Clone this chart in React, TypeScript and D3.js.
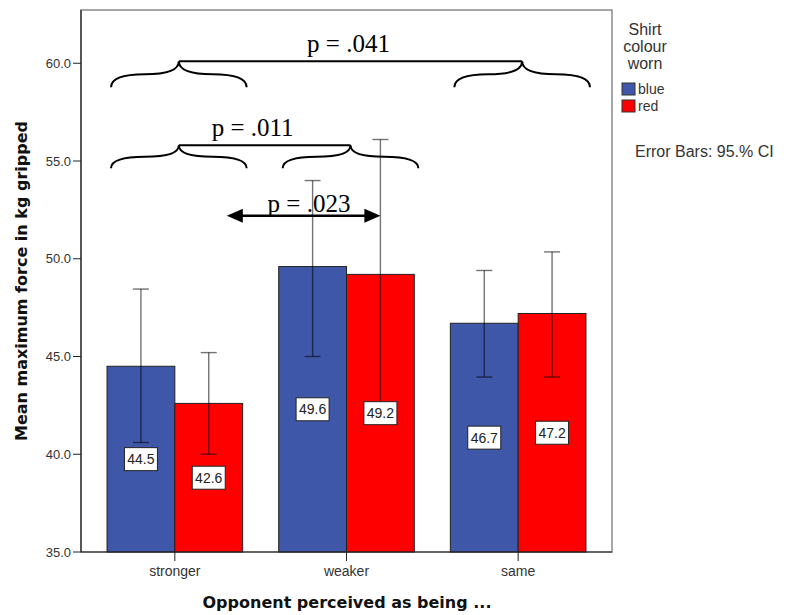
import React from 'react';
import * as d3 from 'd3';

const categories = ['stronger', 'weaker', 'same'];
const series = ['blue', 'red'];
const seriesColors = ['#3f57a8', '#ff0000'];
const blueMeans = [44.5, 49.6, 46.7];
const redMeans = [42.6, 49.2, 47.2];
const blueLow = [40.6, 45.0, 43.95];
const blueHigh = [48.45, 54.0, 49.4];
const redLow = [40.0, 42.3, 43.95];
const redHigh = [45.2, 56.1, 50.35];
const yTicks = [35, 40, 45, 50, 55, 60];

// comparisons drawn above the bars: [left group, right group, level, label]
const braceRows: [string, string, number, string][] = [
    ['stronger', 'same', 60.1, 'p = .041'],
    ['stronger', 'weaker', 55.8, 'p = .011'],
];
const braceLabelShift = [-2, -12];
const arrowLevel = 52.2;
const arrowLabel = 'p = .023';

const W = 786, H = 615;
const left = 81, right = 612, top = 10, bottom = 552;

function bracePath(x0: number, x1: number, y: number, h: number) {
    const xm = (x0 + x1) / 2;
    const ym = y + h * 0.5;
    return `M${x0},${y + h} Q${x0},${ym} ${(x0 + xm) / 2},${ym} Q${xm},${ym} ${xm},${y}` +
        ` Q${xm},${ym} ${(xm + x1) / 2},${ym} Q${x1},${ym} ${x1},${y + h}`;
}

export default function App() {
    const y = d3.scaleLinear().domain([35, 35 + (bottom - top) / 19.55]).range([bottom, top]);
    const x = d3.scaleBand().domain(categories).range([89, 604]).paddingInner(0).paddingOuter(0);
    const bw = x.bandwidth();
    const barW = bw * 0.395;
    const xs = d3.scaleBand().domain(series).range([0, barW * 2]);

    const rows = categories.map((c, i) => [
        { c, s: 'blue', v: blueMeans[i], lo: blueLow[i], hi: blueHigh[i], col: seriesColors[0] },
        { c, s: 'red', v: redMeans[i], lo: redLow[i], hi: redHigh[i], col: seriesColors[1] },
    ]).flat();

    const barX = (c: string, s: string) => (x(c) as number) + bw / 2 - barW + (xs(s) as number);
    const groupL = (c: string) => (x(c) as number) + bw / 2 - barW + 4;
    const groupR = (c: string) => (x(c) as number) + bw / 2 + barW + 4;
    const font = 'Arial, "Liberation Sans", sans-serif';
    const titleFont = '"DejaVu Sans", Verdana, sans-serif';
    const serif = '"Times New Roman", "Liberation Serif", serif';

    const arrowX0 = (x('stronger') as number) + bw / 2 + 52;
    const arrowX1 = barX('weaker', 'red') + barW / 2;
    const ay = y(arrowLevel);

    return (
        <svg width={W} height={H} style={{ position: 'absolute', left: 0, top: 0, background: '#fff' }}>
            <rect x={left} y={top} width={right - left} height={bottom - top} fill="#fff" stroke="#8a8a8a" strokeWidth={1.5} />
            {rows.map((r, i) => (
                <rect key={'b' + i} x={barX(r.c, r.s)} y={y(r.v)} width={barW} height={bottom - y(r.v)}
                    fill={r.col} stroke="#222" strokeWidth={1} />
            ))}
            {rows.map((r, i) => {
                const cx = barX(r.c, r.s) + barW / 2;
                return (
                    <g key={'e' + i} stroke="#000" strokeOpacity={0.55} strokeWidth={1.4}>
                        <line x1={cx} x2={cx} y1={y(r.hi)} y2={y(r.lo)} />
                        <line x1={cx - 8} x2={cx + 8} y1={y(r.hi)} y2={y(r.hi)} />
                        <line x1={cx - 8} x2={cx + 8} y1={y(r.lo)} y2={y(r.lo)} />
                    </g>
                );
            })}
            {rows.map((r, i) => {
                const cx = barX(r.c, r.s) + barW / 2;
                const cy = y((35 + r.v) / 2);
                return (
                    <g key={'l' + i}>
                        <rect x={cx - 16.5} y={cy - 11.5} width={33} height={23} fill="#fff" stroke="#222" strokeWidth={1} />
                        <text x={cx} y={cy + 5} textAnchor="middle" fontFamily={font} fontSize={14} fill="#222">{r.v.toFixed(1)}</text>
                    </g>
                );
            })}
            {/* y axis */}
            <line x1={left} x2={left} y1={top} y2={bottom} stroke="#222" strokeWidth={1.2} />
            {yTicks.map(t => (
                <g key={t}>
                    <line x1={left - 8} x2={left} y1={y(t)} y2={y(t)} stroke="#222" />
                    <text x={left - 10} y={y(t) + 4.5} textAnchor="end" fontFamily={font} fontSize={13} fill="#333">{t.toFixed(1)}</text>
                </g>
            ))}
            {/* x axis */}
            <line x1={left} x2={right} y1={bottom} y2={bottom} stroke="#222" strokeWidth={1.2} />
            {categories.map(c => {
                const cx = (x(c) as number) + bw / 2;
                return (
                    <g key={c}>
                        <line x1={cx} x2={cx} y1={bottom} y2={bottom + 9} stroke="#222" />
                        <text x={cx} y={bottom + 24} textAnchor="middle" fontFamily={font} fontSize={14} fill="#333">{c}</text>
                    </g>
                );
            })}
            <text x={347} y={608} textAnchor="middle" fontFamily={titleFont} fontWeight="bold" fontSize={16} fill="#111">Opponent perceived as being ...</text>
            <text transform={`translate(27,${(top + bottom) / 2}) rotate(-90)`} textAnchor="middle" fontFamily={titleFont} fontWeight="bold" fontSize={16} fill="#111">Mean maximum force in kg gripped</text>

            {/* comparisons */}
            {braceRows.map(([a, b, lvl, lab], i) => {
                const ty = y(lvl);
                const h = i === 0 ? 26 : 23;
                const xa = (groupL(a) + groupR(a)) / 2;
                const xb = (groupL(b) + groupR(b)) / 2;
                return (
                    <g key={'br' + i} fill="none" stroke="#000" strokeWidth={2}>
                        <path d={bracePath(groupL(a), groupR(a), ty, h)} />
                        <path d={bracePath(groupL(b), groupR(b), ty, h)} />
                        <line x1={xa} x2={xb} y1={ty} y2={ty} />
                        <text x={(xa + xb) / 2 + braceLabelShift[i]} y={ty - 9} textAnchor="middle" fontFamily={serif} fontSize={25} fill="#000" stroke="none">{lab}</text>
                    </g>
                );
            })}
            <g>
                <line x1={arrowX0 + 10} x2={arrowX1 - 10} y1={ay} y2={ay} stroke="#000" strokeWidth={2.5} />
                <path d={`M${arrowX0},${ay} L${arrowX0 + 16},${ay - 7} L${arrowX0 + 16},${ay + 7} Z`} fill="#000" />
                <path d={`M${arrowX1},${ay} L${arrowX1 - 16},${ay - 7} L${arrowX1 - 16},${ay + 7} Z`} fill="#000" />
                <text x={309} y={ay - 4} textAnchor="middle" fontFamily={serif} fontSize={25} fill="#000">{arrowLabel}</text>
            </g>

            {/* legend */}
            <g fontFamily={font} fill="#333">
                <text x={645} y={35} textAnchor="middle" fontSize={16}>Shirt</text>
                <text x={645} y={52} textAnchor="middle" fontSize={16}>colour</text>
                <text x={645} y={69} textAnchor="middle" fontSize={16}>worn</text>
                {series.map((s, i) => (
                    <g key={s}>
                        <rect x={622} y={83 + i * 17} width={13} height={12} fill={seriesColors[i]} stroke="#333" />
                        <text x={638} y={94 + i * 17} fontSize={14}>{s}</text>
                    </g>
                ))}
                <text x={635} y={157} fontSize={16}>Error Bars: 95.% CI</text>
            </g>
        </svg>
    );
}
